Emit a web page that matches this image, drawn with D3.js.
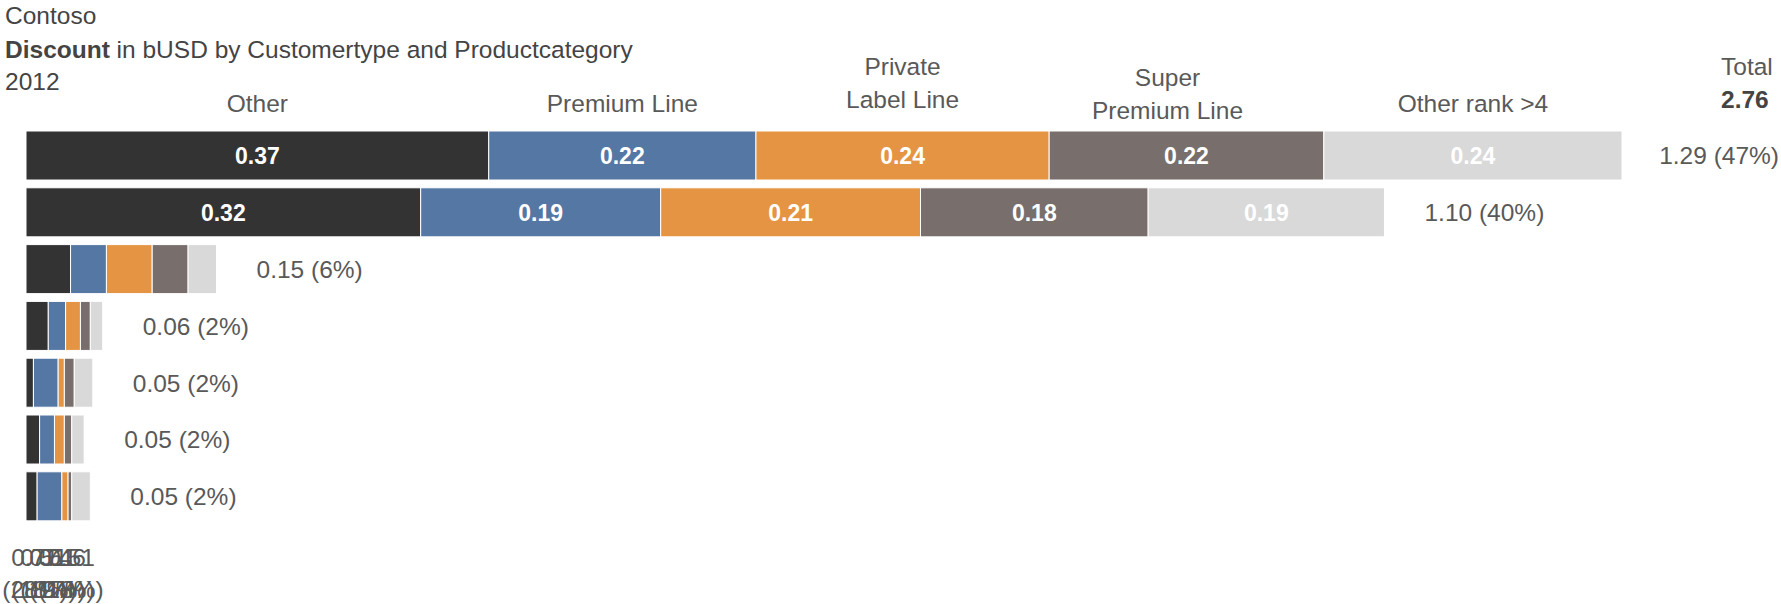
<!DOCTYPE html>
<html>
<head>
<meta charset="utf-8">
<script src="https://cdn.jsdelivr.net/npm/d3@7"></script>
<style>
  html, body { margin: 0; padding: 0; background: #ffffff; }
  svg { display: block; font-family: "Liberation Sans", Arial, sans-serif; }
</style>
</head>
<body>
<svg id="chart" width="1781" height="604"></svg>
<script>
// Product categories (stack order, left to right)
const categories = ["Other", "Premium Line", "Private Label Line", "Super Premium Line", "Other rank >4"];
const headerLines = [["Other"], ["Premium Line"], ["Private", "Label Line"], ["Super", "Premium Line"], ["Other rank >4"]];

// Discount in bUSD per customer type (one entry per row), by product category
const otherValues        = [0.374, 0.319, 0.036, 0.018, 0.006, 0.011, 0.009];
const premiumValues      = [0.216, 0.194, 0.029, 0.014, 0.020, 0.012, 0.020];
const privateLabelValues = [0.237, 0.210, 0.037, 0.012, 0.005, 0.008, 0.005];
const superPremiumValues = [0.222, 0.184, 0.029, 0.008, 0.008, 0.006, 0.003];
const otherRankValues    = [0.241, 0.191, 0.023, 0.010, 0.015, 0.010, 0.015];

const titleLines = ["Contoso", "2012"];
const measureName = "Discount";
const measureText = " in bUSD by Customertype and Productcategory";

const colors = ["#333333", "#5577a4", "#e59443", "#786e6b", "#d9d9d9"];

// ---- layout ----
const W = 1781, H = 604;
const FONT = 24.5;
const barLeft = 26, barRightMax = 1622;
const bandTop = 131, bandStep = 56.8;
const headerLayout = [
  { dx: 0,   baselines: [112] },
  { dx: 0,   baselines: [112] },
  { dx: 0,   baselines: [75, 108] },
  { dx: -19, baselines: [86, 119] },
  { dx: 0,   baselines: [112] }
];

const series = [otherValues, premiumValues, privateLabelValues, superPremiumValues, otherRankValues];
const nRows = otherValues.length;
const rows = d3.range(nRows).map(i => {
  const obj = { id: i };
  categories.forEach((c, j) => obj[c] = series[j][i]);
  obj.total = d3.sum(series, s => s[i]);
  return obj;
});
const grandTotal = d3.sum(rows, r => r.total);
const columnTotals = categories.map((c, j) => d3.sum(series[j]));

const stack = d3.stack().keys(categories);
const stacked = stack(rows);

const x = d3.scaleLinear()
  .domain([0, d3.max(rows, r => r.total)])
  .range([barLeft, barRightMax]);

const pad = 0.137;
const y = d3.scaleBand()
  .domain(rows.map(r => r.id))
  .range([bandTop, bandTop + bandStep * (nRows - pad)])
  .paddingInner(pad)
  .paddingOuter(0);

const fmt = d3.format(".2f");
const pct = d3.format(".0%");

const svg = d3.select("#chart");

// ---- title block ----
const title = svg.append("g").attr("fill", "#444").style("font-size", FONT + "px");
title.append("text").attr("x", 5).attr("y", 24).text(titleLines[0]);
const t2 = title.append("text").attr("x", 5).attr("y", 58);
t2.append("tspan").attr("font-weight", "bold").text(measureName);
t2.append("tspan").text(measureText);
title.append("text").attr("x", 5).attr("y", 90).text(titleLines[1]);

// ---- category headers, centred over the first row's segments ----
const firstRow = stacked.map(s => s[0]);
const headers = svg.append("g").attr("fill", "#595959").style("font-size", FONT + "px").attr("text-anchor", "middle");
categories.forEach((c, j) => {
  const seg = firstRow[j];
  const cx = (x(seg[0]) + x(seg[1])) / 2 + headerLayout[j].dx;
  headerLines[j].forEach((line, k) => {
    headers.append("text").attr("x", cx).attr("y", headerLayout[j].baselines[k]).text(line);
  });
});

// Grand total header
const totalG = svg.append("g").style("font-size", FONT + "px");
totalG.append("text").attr("x", 1721).attr("y", 75).attr("fill", "#595959").text("Total");
totalG.append("text").attr("x", 1721).attr("y", 108).attr("fill", "#444").attr("font-weight", "bold").text(fmt(grandTotal));

// ---- stacked bars ----
const layers = svg.append("g").selectAll("g.layer")
  .data(stacked)
  .join("g")
  .attr("class", "layer")
  .attr("fill", (d, j) => colors[j]);

layers.selectAll("rect")
  .data(d => d.map(p => ({ p, key: d.key })))
  .join("rect")
  .attr("x", d => x(d.p[0]))
  .attr("y", d => y(d.p.data.id))
  .attr("width", d => Math.max(0, x(d.p[1]) - x(d.p[0])))
  .attr("height", y.bandwidth())
  .attr("stroke", "#ffffff")
  .attr("stroke-width", 1);

// value labels inside segments wide enough to hold them
const valueLabels = svg.append("g")
  .attr("fill", "#ffffff")
  .attr("font-weight", "bold")
  .attr("text-anchor", "middle")
  .style("font-size", "23px");

stacked.forEach(layer => {
  layer.forEach(p => {
    const w = x(p[1]) - x(p[0]);
    const v = p[1] - p[0];
    const label = fmt(v);
    if (w > label.length * 13 + 10) {
      valueLabels.append("text")
        .attr("x", (x(p[0]) + x(p[1])) / 2)
        .attr("y", y(p.data.id) + y.bandwidth() / 2)
        .attr("dy", "0.36em")
        .text(label);
    }
  });
});

// ---- row totals to the right of each bar ----
const rowLabels = svg.append("g").attr("fill", "#595959").style("font-size", FONT + "px");
rows.forEach(r => {
  const t = rowLabels.append("text")
    .attr("y", y(r.id) + y.bandwidth() / 2)
    .attr("dy", "0.36em")
    .text(`${fmt(r.total)} (${pct(r.total / grandTotal)})`);
  const tw = t.node().getComputedTextLength();
  t.attr("x", Math.min(x(r.total) + 40, W - tw - 2));
});

// ---- column totals, squeezed into the last strip ----
const colLabels = svg.append("g").attr("fill", "#595959").attr("text-anchor", "middle").style("font-size", FONT + "px");
columnTotals.forEach((v, j) => {
  const cx = 35 + j * 9;
  colLabels.append("text").attr("x", cx).attr("y", 566).text(fmt(v));
  colLabels.append("text").attr("x", cx).attr("y", 598).text(`(${pct(v / grandTotal)})`);
});
</script>
</body>
</html>
